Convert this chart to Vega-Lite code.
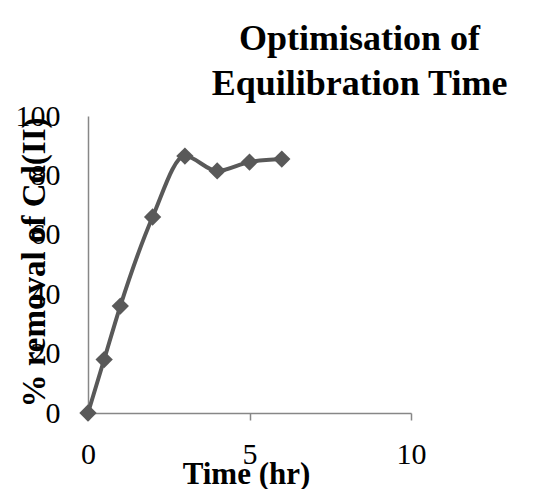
{
  "$schema": "https://vega.github.io/schema/vega-lite/v6.json",
  "width": 323,
  "height": 297,
  "autosize": "none",
  "padding": {"left": 88, "top": 116, "right": 129, "bottom": 76},
  "background": "white",
  "title": {
    "text": ["Optimisation of", "Equilibration Time"],
    "font": "Liberation Serif",
    "fontSize": 36,
    "fontWeight": "bold",
    "color": "black",
    "lineHeight": 45,
    "anchor": "middle",
    "dx": 110,
    "dy": 15,
    "offset": 13
  },
  "data": {
    "values": [
      {"time": 0, "removal": 0},
      {"time": 0.5, "removal": 18},
      {"time": 1, "removal": 36},
      {"time": 2, "removal": 66},
      {"time": 3, "removal": 86.5},
      {"time": 4, "removal": 81.5},
      {"time": 5, "removal": 84.5},
      {"time": 6, "removal": 85.5}
    ]
  },
  "encoding": {
    "x": {
      "field": "time",
      "type": "quantitative",
      "scale": {"domain": [0, 10], "nice": false, "zero": true},
      "axis": {
        "title": "Time (hr)",
        "titleFont": "Liberation Serif",
        "titleFontSize": 31,
        "titleFontWeight": "bold",
        "titleColor": "black",
        "titleX": 158,
        "titleY": 70,
        "titleAlign": "center",
        "titleBaseline": "alphabetic",
        "values": [0, 5, 10],
        "labelFont": "Liberation Serif",
        "labelFontSize": 30,
        "labelColor": "black",
        "labelPadding": 19,
        "labelFlush": false,
        "labelOverlap": false,
        "tickSize": 7,
        "tickColor": "#878787",
        "tickWidth": 1.5,
        "domainColor": "#878787",
        "domainWidth": 1.5,
        "grid": false
      }
    },
    "y": {
      "field": "removal",
      "type": "quantitative",
      "scale": {"domain": [0, 100], "nice": false},
      "axis": {
        "title": "% removal of Cd(II)",
        "titleFont": "Liberation Serif",
        "titleFontSize": 33,
        "titleFontWeight": "bold",
        "titleColor": "black",
        "titleAngle": -90,
        "titleX": -44,
        "titleY": 146,
        "titleAlign": "center",
        "titleBaseline": "alphabetic",
        "values": [0, 20, 40, 60, 80, 100],
        "labelFont": "Liberation Serif",
        "labelFontSize": 30,
        "labelColor": "black",
        "labelPadding": 28,
        "labelFlush": false,
        "labelOverlap": false,
        "ticks": false,
        "tickSize": 0,
        "domainColor": "#878787",
        "domainWidth": 1.5,
        "grid": false
      }
    }
  },
  "layer": [
    {
      "mark": {"type": "line", "interpolate": "monotone", "color": "#595959", "strokeWidth": 4}
    },
    {
      "mark": {"type": "point", "shape": "diamond", "filled": true, "size": 300, "color": "#595959", "opacity": 1}
    }
  ],
  "config": {"view": {"stroke": null}}
}
